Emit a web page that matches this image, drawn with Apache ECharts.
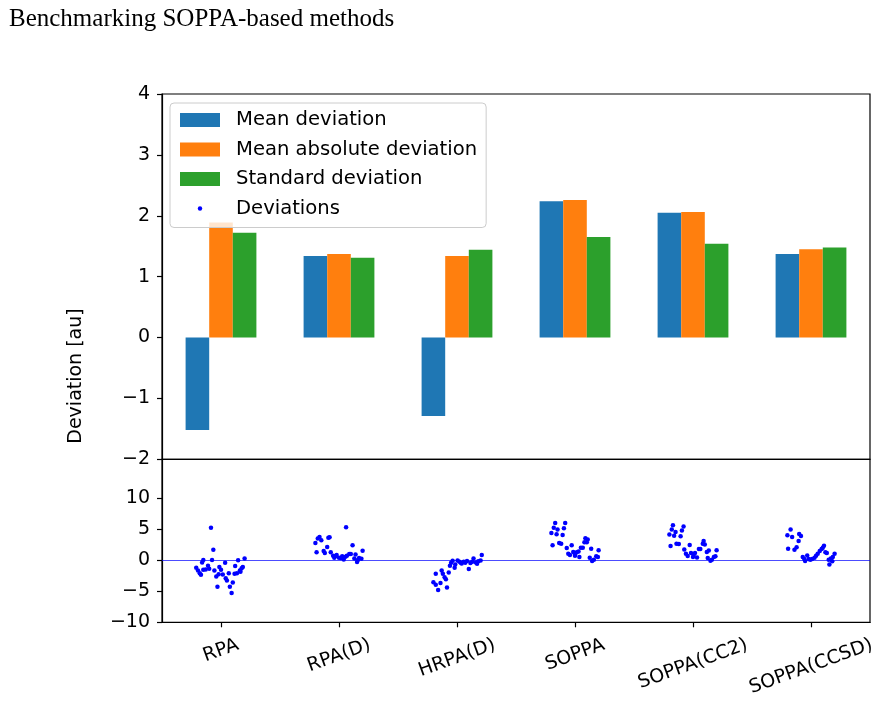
<!DOCTYPE html>
<html>
<head>
<meta charset="utf-8">
<script src="https://cdn.jsdelivr.net/npm/echarts@6/dist/echarts.min.js"></script>
<style>
  html, body { margin: 0; padding: 0; background: #fff; }
  #chart { width: 880px; height: 703px; }
</style>
</head>
<body>
<div id="chart"></div>
<script>
var categories = ['RPA', 'RPA(D)', 'HRPA(D)', 'SOPPA', 'SOPPA(CC2)', 'SOPPA(CCSD)'];
var meanDev = [-1.52, 1.34, -1.29, 2.24, 2.05, 1.37];
var meanAbsDev = [1.89, 1.37, 1.34, 2.26, 2.06, 1.45];
var stdDev = [1.72, 1.31, 1.44, 1.65, 1.54, 1.48];

var bottomTicks = [-10, -5, 0, 5, 10];

// individual deviations: [offset from category centre, value]
var rpaDev = [[-0.085, 5.2], [-0.065, 1.67], [-0.076, 0.0], [-0.15, 0.0], [-0.16, -0.37], [-0.21, -1.23],
  [-0.195, -1.66], [-0.18, -2.1], [-0.17, -2.37], [-0.15, -1.55], [-0.13, -1.5], [-0.11, -0.9], [-0.1, -1.4],
  [-0.056, -1.66], [-0.014, -1.12], [0, -1.55], [0.035, -0.43], [-0.04, -2.63], [-0.02, -2.26], [0.015, -2.3],
  [0.04, -2.9], [0.05, -3.3], [0.066, -2.1], [0.1, -3.6], [0.075, -4.3], [0.09, -5.3], [-0.03, -4.3],
  [0.115, -2.2], [0.135, -2.1], [0.12, -0.97], [0.16, -1.66], [0.175, -1.33], [0.185, -1.1], [0.145, -0.02],
  [0.2, 0.24], [0.165, -1.87]];
var rpaDDev = [[0.06, 5.27], [-0.2, 2.75], [-0.18, 3.45], [-0.165, 3.71], [-0.15, 3.17], [-0.09, 3.6],
  [-0.08, 3.66], [-0.19, 1.24], [-0.13, 1.45], [-0.12, 1.13], [-0.1, 2.1], [-0.07, 1.24], [-0.05, 0.7],
  [-0.04, 0.38], [-0.02, 0.8], [0, 0.38], [0.016, 0.32], [0.04, 0.1], [0.027, 0.6], [0.067, 0.7],
  [0.087, 0.97], [0.1, 0.97], [0.115, 2.4], [0.13, 0.27], [0.14, 0.91], [0.153, -0.32], [0.17, 0.32],
  [0.19, 0.2], [0.2, 1.5], [-0.03, 0.6], [0.055, 0.55], [0.16, 0.0]];
var hrpaDDev = [[-0.18, -2.2], [-0.2, -3.56], [-0.18, -3.98], [-0.16, -4.8], [-0.14, -3.67], [-0.13, -1.66],
  [-0.12, -2.2], [-0.105, -2.74], [-0.094, -3.1], [-0.085, -4.4], [-0.07, -2.0], [-0.06, -0.9], [-0.05, -0.43],
  [-0.037, -0.1], [-0.02, -1.23], [-0.015, -0.7], [0.005, -0.05], [0.02, -0.27], [0.04, -0.54], [0.057, -0.27],
  [0.07, -0.43], [0.085, -0.16], [0.1, -1.45], [0.114, -0.48], [0.13, -0.27], [0.14, 0.27], [0.16, -0.38],
  [0.17, -0.6], [0.18, -0.2], [0.2, -0.05], [0.21, 0.8], [0.034, -0.48]];
var soppaDev = [[-0.168, 5.97], [-0.083, 5.97], [-0.18, 5.2], [-0.148, 4.9], [-0.094, 5.1], [-0.2, 4.35],
  [-0.156, 4.14], [-0.105, 4.03], [-0.19, 2.4], [-0.134, 2.75], [-0.117, 2.64], [-0.07, 1.95], [-0.028, 2.37],
  [-0.057, 1.0], [-0.043, 0.8], [-0.015, 1.3], [0, 0.7], [0.015, 1.24], [0.03, 1.4], [0.037, 0.5], [0.05, 2.0],
  [0.066, 2.0], [0.088, 3.5], [0.108, 3.3], [0.08, 2.85], [0.1, 2.85], [0.137, 1.83], [0.2, 1.6], [0.125, 0.38],
  [0.145, -0.16], [0.16, 0.05], [0.18, 0.6], [0.194, 0.5], [0, 0.9]];
var soppaCC2Dev = [[-0.17, 5.6], [-0.08, 5.4], [-0.18, 4.9], [-0.148, 4.5], [-0.094, 4.75], [-0.2, 4.1],
  [-0.16, 3.9], [-0.105, 3.82], [-0.19, 2.26], [-0.14, 2.64], [-0.12, 2.58], [-0.074, 1.72], [-0.028, 2.42],
  [-0.06, 1.02], [-0.045, 0.64], [-0.017, 1.13], [0, 0.48], [0.017, 1.13], [0.034, 0.43], [0.05, 1.78],
  [0.062, 1.78], [0.09, 3.07], [0.083, 2.64], [0.1, 2.5], [0.117, 1.3], [0.134, 1.56], [0.2, 1.6], [0.125, 0.32],
  [0.148, -0.1], [0.16, 0.05], [0.177, 0.48], [0.19, 0.6], [0.006, 0.8]];
var soppaCCSDDev = [[-0.173, 4.9], [-0.2, 4.0], [-0.16, 3.7], [-0.1, 4.2], [-0.085, 3.87], [-0.105, 3.05],
  [-0.194, 1.83], [-0.14, 1.67], [-0.122, 2.05], [-0.07, 0.48], [-0.057, 0.16], [-0.05, -0.16], [-0.032, 0.75],
  [-0.02, 0.16], [-0.006, 0.05], [0.009, 0.16], [0.03, 0.38], [0.043, 0.7], [0.057, 1.02], [0.074, 1.45],
  [0.09, 1.78], [0.11, 2.3], [0.1, 1.99], [0.122, 1.24], [0.134, 1.13], [0.15, 0.05], [0.156, -0.7],
  [0.168, 0.27], [0.185, 0.48], [0.2, 1.02], [0.18, -0.2]];

var allDevs = [rpaDev, rpaDDev, hrpaDDev, soppaDev, soppaCC2Dev, soppaCCSDDev];
var scatterData = [];
allDevs.forEach(function (pts, i) {
    pts.forEach(function (p) {
        scatterData.push([i + p[0], p[1]]);
    });
});

var FONT = 'DejaVu Sans';
var minus = function (v) { return String(v).replace('-', '\u2212'); };

// rotated tick labels placed like matplotlib (bbox top under the tick)
var measure = document.createElement('canvas').getContext('2d');
measure.font = '19px "DejaVu Sans"';
var s20 = Math.sin(20 * Math.PI / 180), c20 = Math.cos(20 * Math.PI / 180);
var rich = {};
categories.forEach(function (c, i) {
    var w = measure.measureText(c).width;
    var d = w * s20 / 2;
    rich['c' + i] = {
        fontSize: 19, fontFamily: FONT, color: '#000',
        padding: [2 * d * c20, 2 * d * s20, 0, 0]
    };
});

var dotIcon = 'image://data:image/svg+xml;charset=utf-8,' + encodeURIComponent(
    '<svg xmlns="http://www.w3.org/2000/svg" width="40" height="14"><circle cx="20" cy="7" r="2.2" fill="#0000ff"/></svg>');

var axisLineStyle = { color: '#000', width: 1.2 };

var chart = echarts.init(document.getElementById('chart'));
var option = {
    backgroundColor: '#fff',
    animation: false,
    title: {
        text: 'Benchmarking SOPPA-based methods',
        left: 4,
        top: 2,
        textStyle: { fontFamily: 'Liberation Serif', fontWeight: 'normal', fontSize: 25, color: '#000' }
    },
    graphic: [{
        type: 'text',
        x: 76,
        y: 376,
        rotation: Math.PI / 2,
        style: { text: 'Deviation [au]', fontSize: 19, fontFamily: FONT, fill: '#000', align: 'center', verticalAlign: 'middle' }
    }],
    legend: {
        orient: 'vertical',
        left: 170,
        top: 103,
        padding: [7, 9, 9, 10],
        itemWidth: 40,
        itemHeight: 14,
        itemGap: 9.5,
        backgroundColor: 'rgba(255,255,255,0.8)',
        borderColor: '#cccccc',
        borderWidth: 1,
        borderRadius: 4,
        textStyle: { fontSize: 19.6, fontFamily: FONT, color: '#000', lineHeight: 20, padding: [0, 0, 0, 11] },
        data: [
            { name: 'Mean deviation', icon: 'rect' },
            { name: 'Mean absolute deviation', icon: 'rect' },
            { name: 'Standard deviation', icon: 'rect' },
            { name: 'Deviations', icon: dotIcon }
        ],
        z: 10
    },
    grid: [
        { left: 162, width: 708, top: 94, height: 365.3, show: true, borderColor: '#000', borderWidth: 1.2, backgroundColor: 'transparent' },
        { left: 162, width: 708, top: 459.3, height: 163, show: true, borderColor: '#000', borderWidth: 1.2, backgroundColor: 'transparent' }
    ],
    xAxis: [{
        type: 'category',
        gridIndex: 0,
        data: categories,
        axisLine: { show: false },
        axisTick: { show: false },
        axisLabel: { show: false }
    }, {
        type: 'value',
        gridIndex: 1,
        min: -0.5,
        max: 5.5,
        axisLine: { show: true, onZero: false, lineStyle: axisLineStyle },
        axisTick: { show: true, length: 5, lineStyle: axisLineStyle, customValues: [0, 1, 2, 3, 4, 5] },
        axisLabel: {
            customValues: [0, 1, 2, 3, 4, 5],
            rotate: 20,
            align: 'center',
            verticalAlign: 'middle',
            margin: 22,
            rich: rich,
            formatter: function (v) {
                var i = Math.round(v);
                return '{c' + i + '|' + categories[i] + '}';
            }
        },
        splitLine: { show: false }
    }],
    yAxis: [{
        type: 'value',
        gridIndex: 0,
        min: -2,
        max: 4,
        interval: 1,
        axisLine: { show: true, onZero: false, lineStyle: axisLineStyle },
        axisTick: { show: true, length: 5, lineStyle: axisLineStyle },
        axisLabel: { fontSize: 19, fontFamily: FONT, color: '#000', margin: 12, formatter: minus },
        splitLine: { show: false }
    }, {
        type: 'value',
        gridIndex: 1,
        min: -10,
        max: 16.2,
        axisLine: { show: true, onZero: false, lineStyle: axisLineStyle },
        axisTick: { show: true, length: 5, lineStyle: axisLineStyle, customValues: bottomTicks },
        axisLabel: { fontSize: 19, fontFamily: FONT, color: '#000', margin: 12, customValues: bottomTicks, formatter: minus },
        splitLine: { show: false }
    }],
    series: [{
        name: 'Mean deviation',
        type: 'bar',
        xAxisIndex: 0, yAxisIndex: 0,
        barWidth: 23.6,
        barGap: '0%',
        itemStyle: { color: '#1f77b4' },
        data: meanDev
    }, {
        name: 'Mean absolute deviation',
        type: 'bar',
        xAxisIndex: 0, yAxisIndex: 0,
        barWidth: 23.6,
        barGap: '0%',
        itemStyle: { color: '#ff7f0e' },
        data: meanAbsDev
    }, {
        name: 'Standard deviation',
        type: 'bar',
        xAxisIndex: 0, yAxisIndex: 0,
        barWidth: 23.6,
        barGap: '0%',
        itemStyle: { color: '#2ca02c' },
        data: stdDev
    }, {
        name: 'Deviations',
        type: 'scatter',
        xAxisIndex: 1, yAxisIndex: 1,
        symbolSize: 4.5,
        itemStyle: { color: '#0000ff', opacity: 1 },
        data: scatterData,
        markLine: {
            silent: true,
            symbol: 'none',
            label: { show: false },
            lineStyle: { color: '#0000ff', width: 1, type: 'solid', opacity: 0.7 },
            data: [{ yAxis: 0 }]
        }
    }]
};
chart.setOption(option);
</script>
</body>
</html>
